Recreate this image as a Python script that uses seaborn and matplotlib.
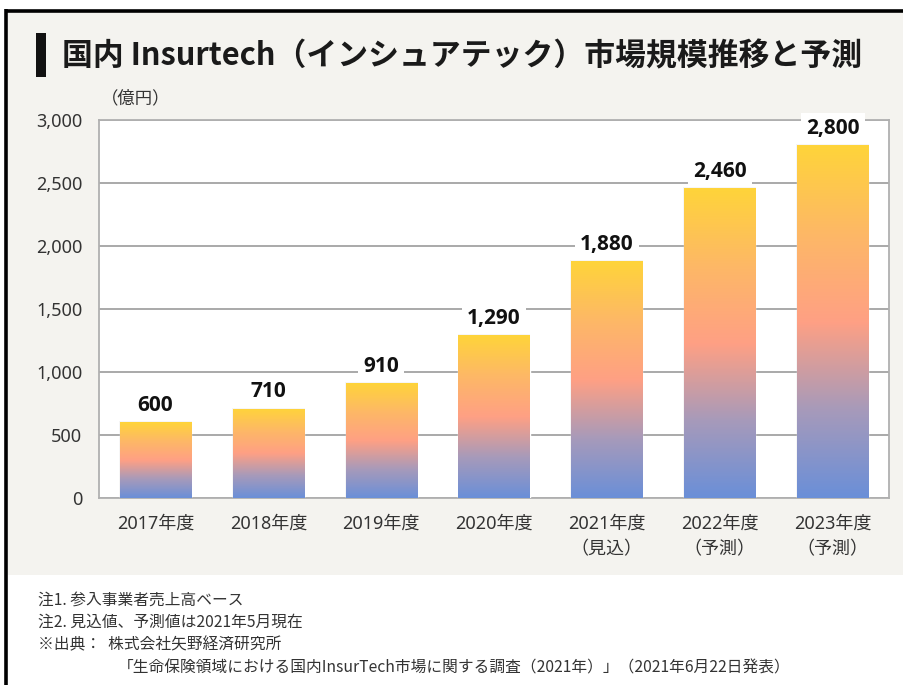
import numpy as np
import pandas as pd
import matplotlib
matplotlib.use("Agg")
import matplotlib.pyplot as plt
import seaborn as sns
from matplotlib.colors import LinearSegmentedColormap
from matplotlib.patches import Rectangle
from matplotlib.lines import Line2D

# ---- data ----
categories = ["2017年度", "2018年度", "2019年度", "2020年度",
              "2021年度\n（見込）", "2022年度\n（予測）", "2023年度\n（予測）"]
values = [600, 710, 910, 1290, 1880, 2460, 2800]
value_labels = ["600", "710", "910", "1,290", "1,880", "2,460", "2,800"]
y_ticks = [0, 500, 1000, 1500, 2000, 2500, 3000]
y_tick_labels = ["0", "500", "1,000", "1,500", "2,000", "2,500", "3,000"]
title = "国内 Insurtech（インシュアテック）市場規模推移と予測"
unit = "（億円）"
notes = ["注1. 参入事業者売上高ベース",
         "注2. 見込値、予測値は2021年5月現在",
         "※出典：  株式会社矢野経済研究所"]
source_line = "「生命保険領域における国内InsurTech市場に関する調査（2021年）」（2021年6月22日発表）"

sns.set_theme(style="white")
plt.rcParams["font.family"] = ["Noto Sans CJK JP", "DejaVu Sans"]
NUM_FONT = ["Noto Sans", "Noto Sans CJK JP"]
BOLD_NUM_FONT = ["Open Sans", "Noto Sans CJK JP"]

W, H = 904, 685
fig = plt.figure(figsize=(W / 100, H / 100), dpi=100)
fig.patch.set_facecolor("white")

# beige panel
fig.add_artist(Rectangle((8 / W, 1 - 575 / H), 1 - 8 / W, (575 - 12) / H,
                         transform=fig.transFigure, facecolor="#F4F3EF",
                         edgecolor="none", zorder=0))
# black frame (left + top)
fig.add_artist(Line2D([6.5 / W, 6.5 / W], [0, 1 - 9 / H], transform=fig.transFigure,
                      color="black", lw=2.6, solid_capstyle="butt", zorder=1))
fig.add_artist(Line2D([5 / W, 1], [1 - 10.5 / H, 1 - 10.5 / H], transform=fig.transFigure,
                      color="black", lw=2.6, solid_capstyle="butt", zorder=1))
# title marker
fig.add_artist(Rectangle((36 / W, 1 - 77 / H), 10 / W, 44 / H, transform=fig.transFigure,
                         facecolor="#111111", edgecolor="none", zorder=2))
fig.text(62 / W, 1 - 56 / H, title, fontsize=22.2, fontweight="bold",
         color="#1a1a1a", va="center", ha="left")
fig.text(101 / W, 1 - 98 / H, unit, fontsize=12.5, color="#333333", va="center", ha="left")

ax = fig.add_axes([99 / W, 1 - 498 / H, 790 / W, 378 / H])
ax.set_facecolor("white")

df = pd.DataFrame({"category": categories, "value": values})
sns.barplot(data=df, x="category", y="value", color="#FFA084", width=0.63,
            ax=ax, zorder=3)

cmap = LinearSegmentedColormap.from_list(
    "grad", [(0.0, "#6A8FD8"), (0.25, "#A79ABA"), (0.5, "#FFA084"),
             (0.75, "#FDB866"), (1.0, "#FFD43A")])
grad = np.linspace(0, 1, 256).reshape(-1, 1)
for p, lab in zip(ax.patches, value_labels):
    x0, w, h = p.get_x(), p.get_width(), p.get_height()
    # faint edge shadow
    ax.add_patch(Rectangle((x0 - 0.008, 0), w + 0.016, h + 8,
                           facecolor="#000000", alpha=0.04, edgecolor="none", zorder=2.5))
    im = ax.imshow(grad, extent=[x0, x0 + w, 0, h], origin="lower", aspect="auto",
                   cmap=cmap, zorder=4, interpolation="bilinear")
    im.set_clip_path(p)
    p.set_facecolor("none")
    ax.text(x0 + w / 2, h + 50, lab, ha="center", va="bottom", fontsize=15,
            fontweight="bold", color="#111111", zorder=5, family=BOLD_NUM_FONT,
            bbox=dict(boxstyle="square,pad=0.25", facecolor="white", edgecolor="none"))

ax.set_xlim(-0.5, len(categories) - 0.5)
ax.set_ylim(0, 3000)
ax.set_yticks(y_ticks)
ax.set_yticklabels(y_tick_labels)
ax.grid(axis="y", color="#A3A3A3", lw=1.3, zorder=1)
ax.grid(axis="x", visible=False)
ax.set_axisbelow(True)
for s in ax.spines.values():
    s.set_visible(True)
    s.set_color("#B0B0B0")
    s.set_linewidth(1.3)
ax.tick_params(axis="both", length=0, labelsize=13, colors="#333333")
ax.tick_params(axis="y", pad=12)
ax.tick_params(axis="x", pad=12)
ax.set_xlabel("")
ax.set_ylabel("")
for t in ax.get_yticklabels():
    t.set_family(NUM_FONT)
for t in ax.get_xticklabels():
    t.set_family(NUM_FONT)
    t.set_linespacing(1.55)

ys = [600, 622, 645]
for y, n in zip(ys, notes):
    fig.text(38 / W, 1 - y / H, n, fontsize=11.3, color="#333333", va="center", ha="left")
fig.text(118 / W, 1 - 668 / H, source_line, fontsize=11.3, color="#333333",
         va="center", ha="left")

fig.savefig("out.png", dpi=100, facecolor=fig.get_facecolor())
